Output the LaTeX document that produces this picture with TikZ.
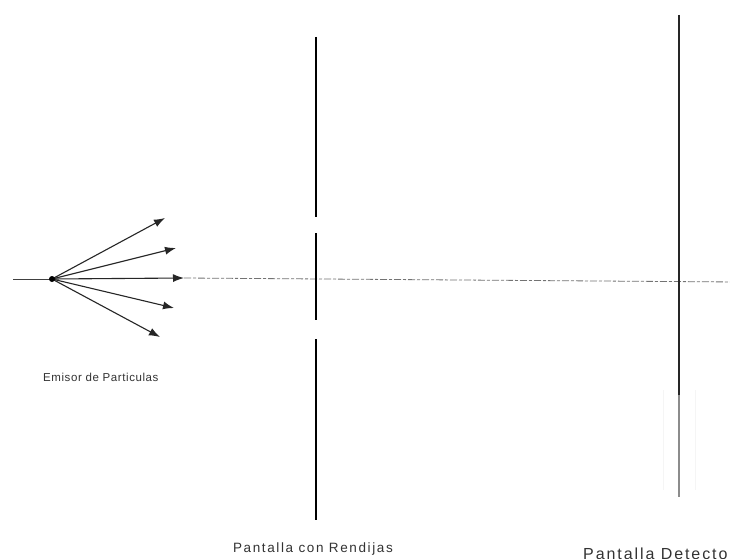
\documentclass[tikz,border=0pt]{standalone}
\usepackage{fontspec}
\setmainfont{Liberation Sans}
\usetikzlibrary{arrows.meta}
\begin{document}
\begin{tikzpicture}[x=1pt,y=1pt,
  ray/.style={draw=black!85,line width=1.1pt,-{Latex[length=11pt,width=8pt]}},
  axisline/.style={draw=black!55,line width=0.8pt,dash pattern=on 7pt off 2pt on 3pt off 2pt},
  screen/.style={draw=black,line width=2.6pt},
  lbl/.style={text=black!80,inner sep=0pt},
  lblsmall/.style={lbl,font=\fontsize{11.5}{13}\selectfont\addfontfeature{LetterSpace=5}},
  lblmid/.style={lbl,font=\fontsize{13.5}{14}\selectfont\addfontfeature{LetterSpace=12}},
  lblbig/.style={lbl,font=\fontsize{16}{18}\selectfont\addfontfeature{LetterSpace=12}}]
\useasboundingbox[fill=white] (0,0) rectangle (730,558);
% emitter
\coordinate (o) at (52,279);
\coordinate (lft) at (13,279);
\coordinate (t1) at (165,340);
\coordinate (t2) at (176,310);
\coordinate (t3) at (184,280);
\coordinate (t4) at (174,250);
\coordinate (t5) at (160,221);
\coordinate (axend) at (737,276);
\draw[draw=black!75,line width=0.9pt] (lft) -- (o);
\draw[axisline] (t3) -- (axend);
\foreach \t in {t1,t2,t3,t4,t5} \draw[ray] (o) -- (\t);
\fill[black] (o) circle (3pt);
% slit screen
\coordinate (s1a) at (316,521); \coordinate (s1b) at (316,341);
\coordinate (s2a) at (316,325); \coordinate (s2b) at (316,238);
\coordinate (s3a) at (316,219); \coordinate (s3b) at (316,38);
\draw[screen] (s1a) -- (s1b);
\draw[screen] (s2a) -- (s2b);
\draw[screen] (s3a) -- (s3b);
% detector screen
\coordinate (d1) at (679,543); \coordinate (d2) at (679,163); \coordinate (d3) at (679,61);
\draw[draw=black!85,line width=1.4pt] (d1) -- (d2);
\draw[draw=black!45,line width=1.4pt] (d2) -- (d3);
\draw[draw=black!4,line width=1pt] (663,168) -- (663,68);
\draw[draw=black!4,line width=1pt] (695,168) -- (695,68);
% labels
\node[lblsmall,anchor=base west] (lem) at (43,177) {Emisor de Particulas};
\node[lblmid,anchor=base] (lpr) at (313,6) {Pantalla con Rendijas};
\node[lblbig,anchor=base west] (lpd) at (583,-1) {Pantalla Detector};
\end{tikzpicture}
\end{document}
